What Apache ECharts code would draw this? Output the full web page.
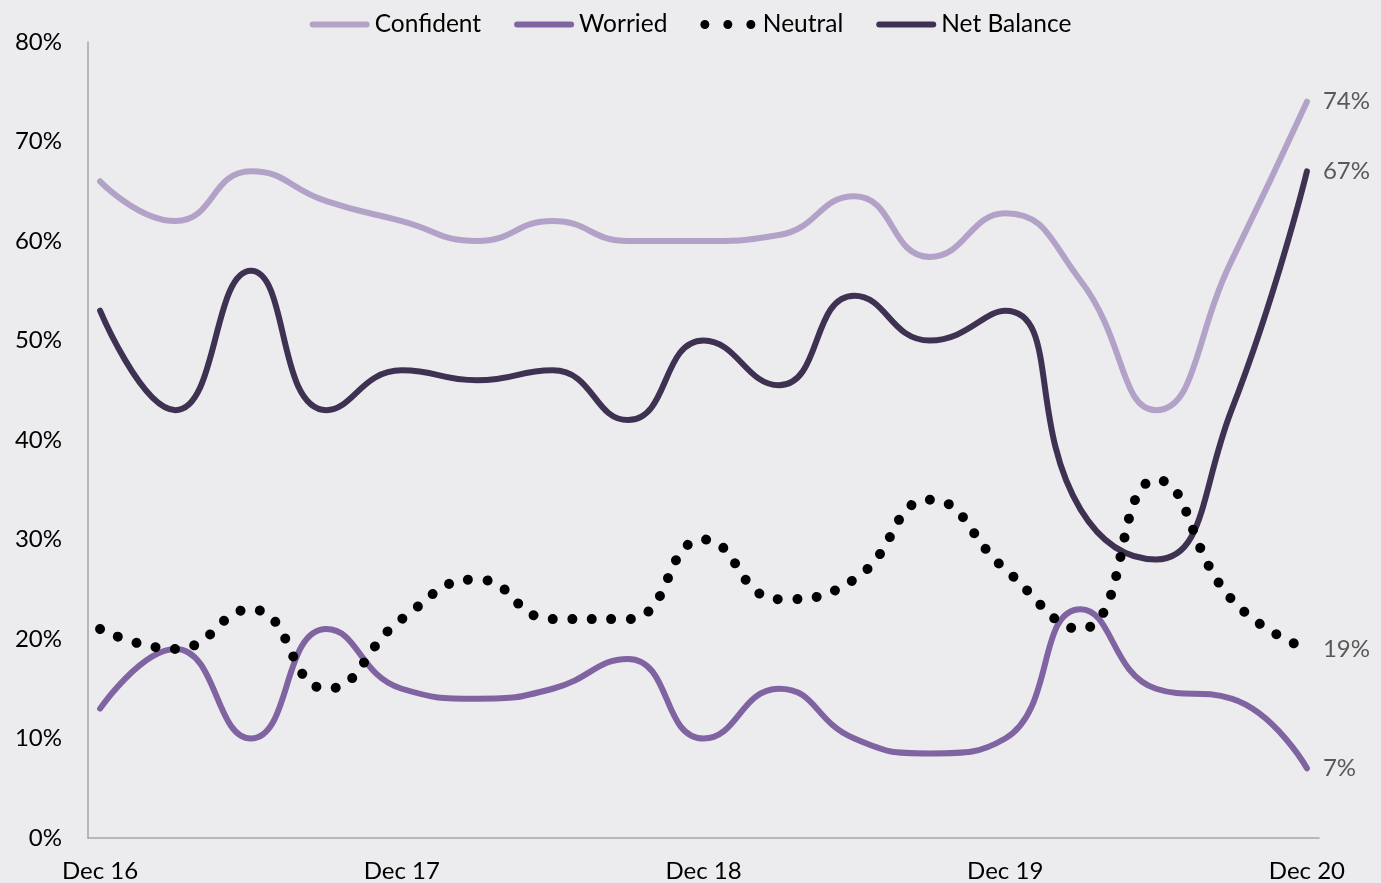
<!DOCTYPE html>
<html>
<head>
<meta charset="utf-8">
<script src="https://cdn.jsdelivr.net/npm/echarts@6/dist/echarts.min.js"></script>
<style>
  html, body { margin: 0; padding: 0; background: #ECECEE; }
  #container { width: 1381px; height: 883px; }
</style>
</head>
<body>
<div id="container"></div>
<script>
var dom = document.getElementById("container");
var myChart = echarts.init(dom, null, { renderer: "canvas" });

// quarterly, Dec 16 .. Dec 20
const quarters = 17;
const tickIndex = [0, 4, 8, 12, 16];
const tickLabels = ["Dec 16", "Dec 17", "Dec 18", "Dec 19", "Dec 20"];
const confident = [66, 62, 67, 64, 62, 60, 62, 60, 60, 60.6, 64.5, 58.4, 62.8, 56, 43, 58, 74];
const worried = [13, 19, 10, 21, 15, 14, 15, 18, 10, 15, 10, 8.5, 10, 23, 15, 14, 7];
const neutral = [21, 19, 23, 15, 22, 26, 22, 22, 30, 24, 26, 34, 27, 21, 36, 24, 19];
const netBalance = [53, 43, 57, 43, 47, 46, 47, 42, 50, 45.5, 54.5, 50, 53, 33, 28, 43, 67];

const colors = {
  Confident: "#B3A2C8",
  Worried: "#8064A2",
  Neutral: "#000000",
  "Net Balance": "#3F3151",
};

const font = "Lato";
const capsule = "path://M3,0H57A3,3,0,0,1,57,6H3A3,3,0,0,1,3,0Z";
const dots =
  "path://M0,4.5A4.5,4.5,0,1,0,9,4.5A4.5,4.5,0,1,0,0,4.5Z" +
  "M23,4.5A4.5,4.5,0,1,0,32,4.5A4.5,4.5,0,1,0,23,4.5Z" +
  "M46,4.5A4.5,4.5,0,1,0,55,4.5A4.5,4.5,0,1,0,46,4.5Z";

function pairs(arr) {
  return arr.map(function (v, i) {
    return [i, v];
  });
}

function lineSeries(name, values, style) {
  return {
    name: name,
    type: "line",
    smooth: 0.5,
    symbol: "none",
    data: pairs(values),
    color: colors[name],
    lineStyle: Object.assign({ color: colors[name], width: 6, cap: "round", join: "round" }, style || {}),
    endLabel: {
      show: true,
      distance: 16,
      color: "#595959",
      fontFamily: font,
      fontSize: 24,
      formatter: function (p) {
        return p.value[1] + "%";
      },
    },
    z: name === "Neutral" ? 3 : 2,
  };
}

var option = {
  backgroundColor: "#ECECEE",
  animation: false,
  textStyle: { fontFamily: font },
  legend: {
    top: 7,
    left: "center",
    itemWidth: 60,
    itemHeight: 9,
    itemGap: 33,
    symbolKeepAspect: true,
    textStyle: { fontFamily: font, fontSize: 24.5, color: "#000" },
    data: [
      { name: "Confident", icon: capsule },
      { name: "Worried", icon: capsule },
      { name: "Neutral", icon: dots },
      { name: "Net Balance", icon: capsule },
    ],
  },
  grid: {
    left: 88,
    right: 62,
    top: 42,
    bottom: 45,
    outerBoundsMode: "none",
  },
  xAxis: {
    type: "value",
    min: -0.16,
    max: quarters - 1 + 0.16,
    splitLine: { show: false },
    axisTick: { show: false },
    axisLine: { show: true, onZero: false, lineStyle: { color: "#A6A6A6", width: 1.5 } },
    axisLabel: {
      customValues: tickIndex,
      margin: 21,
      fontSize: 24,
      fontFamily: font,
      color: "#000",
      formatter: function (v) {
        return tickLabels[tickIndex.indexOf(v)] || "";
      },
    },
  },
  yAxis: {
    type: "value",
    min: 0,
    max: 80,
    interval: 10,
    splitLine: { show: false },
    axisTick: { show: false },
    axisLine: { show: true, onZero: false, lineStyle: { color: "#A6A6A6", width: 1.5 } },
    axisLabel: {
      margin: 26,
      fontSize: 24,
      fontFamily: font,
      color: "#000",
      formatter: "{value}%",
    },
  },
  series: [
    lineSeries("Confident", confident),
    lineSeries("Worried", worried),
    lineSeries("Neutral", neutral, { width: 10, type: [0.01, 19.5] }),
    lineSeries("Net Balance", netBalance),
  ],
};

myChart.setOption(option);
window.addEventListener("resize", myChart.resize);
</script>
</body>
</html>
